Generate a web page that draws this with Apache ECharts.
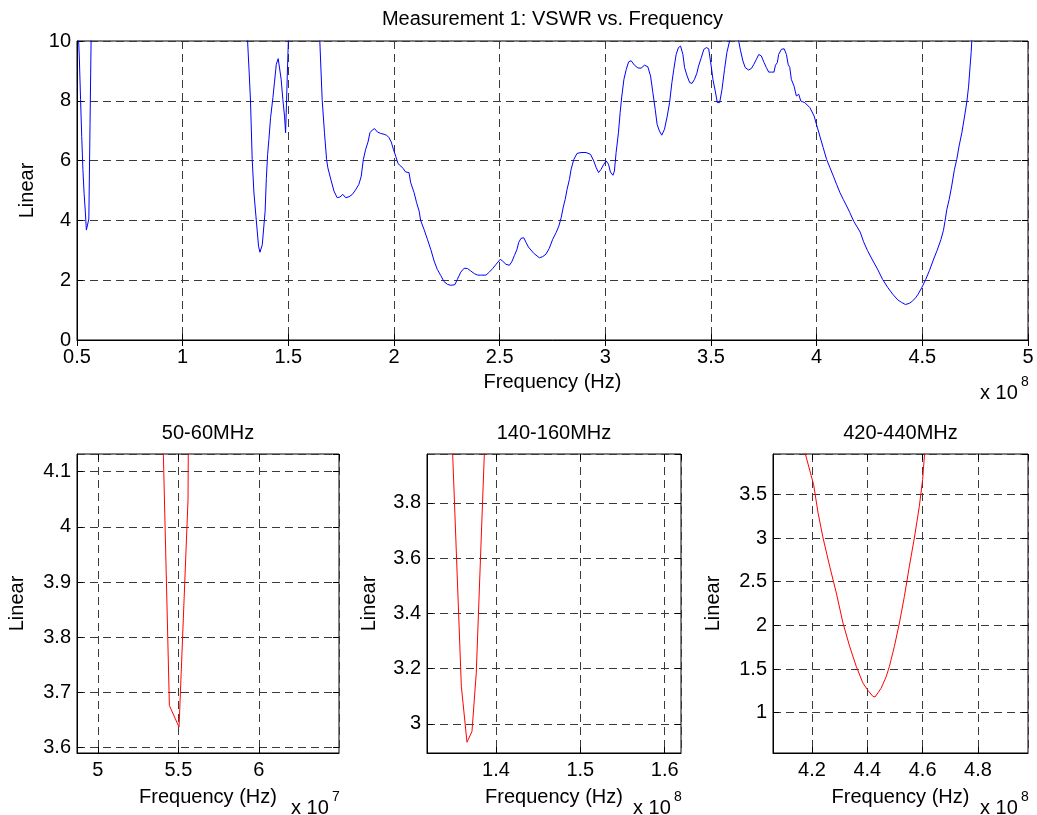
<!DOCTYPE html>
<html>
<head>
<meta charset="utf-8">
<title>VSWR vs. Frequency</title>
<script src="https://cdn.jsdelivr.net/npm/echarts@6/dist/echarts.min.js"></script>
<style>
  html, body { margin: 0; padding: 0; background: #fff; }
  #main { width: 1037px; height: 815px; }
</style>
</head>
<body>
<div id="main"></div>
<script>
// measured curve, frequency in MHz, VSWR linear
// the curve is off the top of the plot between the segments
var freqA = [50.0, 50.56, 51.12, 51.68, 52.24, 52.8, 53.36, 53.92, 54.44, 55.04, 55.6, 56.16, 56.72, 57.28];
var vswrA = [11.5, 10.4, 9.4, 8.05, 6.8, 5.7, 4.9, 4.31, 3.676, 3.637, 4.05, 7.2, 10.3, 11.5];

var freqB = [130.2, 131.0, 131.5, 132.1, 132.9, 133.7, 134.5, 135.9, 136.57, 137.16,
  137.67, 139.0, 139.6, 140.2, 140.8, 141.6, 142.7, 143.5, 144.3, 145.2,
  145.8, 146.6, 147.4, 148.2, 148.7, 149.0, 149.5, 150.0, 150.4];
var vswrB = [10.8, 9.6, 8.9, 7.99, 6.04, 4.95, 4.28, 3.136, 2.934, 2.973,
  3.185, 4.29, 5.4, 6.2, 6.71, 7.44, 8.10, 8.66, 9.22, 9.41,
  9.39, 8.72, 8.05, 7.49, 6.93, 7.60, 8.83, 10.0, 10.8];

var freqC = [164.4, 164.9, 166.0, 167.1, 168.1, 168.7, 170.3, 171.6, 173.1, 174.4,
  175.8, 177.1, 178.7, 180.3, 181.8, 183.4, 184.5, 185.5, 186.6, 187.7,
  188.6, 189.7, 190.8, 192.1, 193.7, 195.3, 196.5, 197.6, 198.7, 199.7,
  200.8, 201.9, 203.2, 204.4, 205.5, 206.3, 207.1, 207.9, 209.5, 210.7,
  211.9, 212.6, 214.2, 215.8, 217.4, 219.0, 220.5, 222.1, 223.7, 225.3,
  226.9, 228.8, 230.0, 231.6, 233.2, 234.8, 236.3, 238.0, 239.6, 241.1,
  243.5, 245.1, 246.7, 248.3, 250.3, 251.4, 253.0, 254.6, 255.7, 257.0,
  258.2, 259.0, 260.1, 261.4, 262.5, 263.6, 264.8, 266.1, 267.7, 268.8,
  270.4, 271.9, 273.5, 275.1, 276.7, 278.0, 279.1, 280.2, 281.0, 281.9,
  283.0, 283.8, 285.1, 286.6, 288.5, 290.9, 293.0, 294.5, 295.7, 296.8,
  298.0, 299.3];
var vswrC = [10.9, 10.0, 8.05, 6.93, 6.04, 5.76, 5.32, 4.98, 4.76, 4.78,
  4.87, 4.76, 4.79, 4.87, 5.02, 5.21, 5.48, 6.04, 6.38, 6.62,
  6.93, 7.02, 7.07, 6.96, 6.91, 6.88, 6.85, 6.77, 6.62, 6.38,
  6.15, 5.90, 5.82, 5.73, 5.62, 5.67, 5.60, 5.26, 4.93, 4.59,
  4.31, 4.00, 3.70, 3.37, 3.03, 2.64, 2.36, 2.16, 1.95, 1.86,
  1.83, 1.85, 2.03, 2.27, 2.40, 2.39, 2.31, 2.22, 2.17, 2.17,
  2.17, 2.27, 2.39, 2.53, 2.70, 2.64, 2.53, 2.50, 2.61, 2.83,
  3.03, 3.26, 3.40, 3.42, 3.26, 3.11, 3.01, 2.90, 2.81, 2.75,
  2.79, 2.87, 3.07, 3.37, 3.59, 3.81, 4.09, 4.48, 4.70, 5.04,
  5.37, 5.71, 6.04, 6.24, 6.27, 6.27, 6.21, 5.99, 5.76, 5.60,
  5.71, 5.88];

var freqD = [300.4, 301.5, 302.4, 303.6, 304.3, 305.1, 306.2, 307.0, 307.8, 308.8,
  309.9, 311.0, 312.2, 313.8, 315.4, 316.9, 318.5, 320.1, 321.4, 322.5,
  323.6, 324.5, 325.6, 326.7, 328.0, 329.3, 330.4, 331.5, 332.4, 333.5,
  334.6, 335.6, 336.7, 337.5, 338.7, 339.9, 341.0, 342.2, 343.3, 344.1,
  345.4, 346.6, 347.8, 348.9, 350.1, 350.9, 352.0, 353.0, 354.1, 355.2,
  356.4, 357.5, 358.8, 359.6, 361.0, 362.0, 363.1, 364.0, 365.1, 366.2,
  367.8, 369.1, 370.3, 371.5, 372.6, 373.8, 375.1, 376.2, 377.3, 378.6,
  379.8, 380.5, 381.4, 382.0, 383.3, 384.6, 385.7, 386.5, 387.3, 388.0,
  389.3, 390.4, 391.5, 392.5, 394.4, 396.8, 398.8, 399.9, 401.5, 403.1,
  404.7, 406.3, 407.9, 409.4, 411.0, 412.6, 414.2, 415.7];
var vswrD = [5.99, 5.88, 5.62, 5.51, 5.65, 6.27, 6.93, 7.60, 8.16, 8.72,
  9.05, 9.30, 9.34, 9.19, 9.10, 9.09, 9.19, 9.14, 8.83, 8.27,
  7.71, 7.21, 6.99, 6.85, 7.05, 7.49, 7.94, 8.61, 9.05, 9.55,
  9.78, 9.83, 9.55, 9.11, 8.83, 8.61, 8.58, 8.72, 8.92, 9.16,
  9.44, 9.72, 9.78, 9.74, 9.16, 8.72, 8.33, 7.94, 7.94, 8.38,
  9.05, 9.61, 10.0, 10.2, 10.3, 10.15, 10.0, 9.67, 9.33, 9.11,
  9.03, 9.08, 9.22, 9.39, 9.55, 9.50, 9.28, 9.11, 8.96, 8.96,
  8.96, 9.19, 9.28, 9.55, 9.72, 9.74, 9.55, 9.22, 9.11, 8.72,
  8.49, 8.16, 8.22, 7.99, 7.94, 7.77, 7.49, 7.21, 6.82, 6.43,
  6.04, 5.76, 5.48, 5.21, 4.93, 4.70, 4.48, 4.26];

var freqE = [417.6, 420.6, 422.2, 424.0, 426.4, 428.8, 431.2, 433.6, 436.0, 438.4,
  440.2, 442.0, 442.8, 443.8, 445.0, 446.8, 448.0, 449.8, 451.6, 453.4,
  455.2, 457.0, 458.8, 460.0, 460.7, 461.6, 462.7, 463.9, 465.2, 466.3,
  467.4, 468.7, 470.0, 471.1, 471.9, 472.6, 473.1, 473.4, 474.0];
var vswrE = [3.962, 3.61, 3.286, 3.0, 2.676, 2.37, 2.026, 1.76, 1.53, 1.34,
  1.256, 1.187, 1.18, 1.225, 1.28, 1.41, 1.53, 1.76, 2.026, 2.33,
  2.676, 3.0, 3.36, 3.67, 3.962, 4.37, 4.70, 5.15, 5.71, 6.04,
  6.49, 6.93, 7.49, 7.99, 8.49, 9.16, 9.61, 10.0, 11.0];

// the four panels
var titles = ['Measurement 1: VSWR vs. Frequency', '50-60MHz', '140-160MHz', '420-440MHz'];
var xMin = [50, 48.7, 131.83, 405.9];
var xMax = [500, 64.98, 161.93, 498.1];
var xStep = [50, 5, 10, 20];
var xDiv = [100, 10, 100, 100];   // MHz -> shown units
var xExp = ['8', '7', '8', '8'];
var yMin = [0, 3.59, 2.895, 0.538];
var yMax = [10, 4.132, 3.977, 3.962];
var yStep = [2, 0.1, 0.2, 0.5];

// build points, null = gap
function pairs(f, v) {
  var out = [];
  for (var i = 0; i < f.length; i++) out.push([f[i], v[i]]);
  return out;
}
var points = [].concat(
  pairs(freqA, vswrA), [[90, null]],
  pairs(freqB, vswrB), [[157, null]],
  pairs(freqC, vswrC), pairs(freqD, vswrD), pairs(freqE, vswrE)
);

var font = '"Liberation Sans", Arial, sans-serif';
var fs = 20;
var boxes = [
  { left: 77, top: 41, width: 951, height: 299 },
  { left: 77, top: 454, width: 262, height: 299 },
  { left: 427, top: 454, width: 254, height: 299 },
  { left: 773, top: 454, width: 255, height: 299 }
];
var xNameGap = [32, 34, 34, 34];
var yNameGap = [40, 50, 48, 50];

function fmt(div) {
  return function (v) { return String(+(v / div).toFixed(4)); };
}
var gridLine = { show: true, lineStyle: { color: '#3a3a3a', type: [8, 5], width: 1 } };
var tick = { show: true, inside: true, length: 6, lineStyle: { color: '#000', width: 1 } };

var option = { animation: false, grid: [], xAxis: [], yAxis: [], series: [], graphic: [] };
var extraX = [], extraY = [];

for (var i = 0; i < 4; i++) {
  var b = boxes[i];
  option.grid.push({
    left: b.left, top: b.top, width: b.width, height: b.height,
    show: true, borderColor: '#000', borderWidth: 1, outerBoundsMode: 'none'
  });
  option.xAxis.push({
    type: 'value', gridIndex: i, min: xMin[i], max: xMax[i],
    minInterval: xStep[i], maxInterval: xStep[i],
    name: 'Frequency (Hz)', nameLocation: 'middle', nameGap: xNameGap[i],
    nameTextStyle: { color: '#000', fontSize: fs, fontFamily: font },
    axisLine: { show: true, onZero: false, lineStyle: { color: '#000', width: 1 } },
    axisTick: tick,
    axisLabel: {
      color: '#000', fontSize: fs, fontFamily: font, margin: 7,
      formatter: fmt(xDiv[i]), showMinLabel: i == 0, showMaxLabel: i == 0
    },
    splitLine: gridLine
  });
  option.yAxis.push({
    type: 'value', gridIndex: i, min: yMin[i], max: yMax[i],
    minInterval: yStep[i], maxInterval: yStep[i],
    name: 'Linear', nameLocation: 'middle', nameGap: yNameGap[i],
    nameTextStyle: { color: '#000', fontSize: fs, fontFamily: font },
    axisLine: { show: true, onZero: false, lineStyle: { color: '#000', width: 1 } },
    axisTick: tick,
    axisLabel: {
      color: '#000', fontSize: fs, fontFamily: font, margin: 6,
      formatter: fmt(1), showMinLabel: i == 0, showMaxLabel: i == 0
    },
    splitLine: gridLine
  });
  // ticks on the top and right edges too
  extraX.push({
    type: 'value', gridIndex: i, position: 'top', min: xMin[i], max: xMax[i],
    minInterval: xStep[i], maxInterval: xStep[i],
    axisLine: { show: false }, axisTick: tick, axisLabel: { show: false }, splitLine: { show: false }
  });
  extraY.push({
    type: 'value', gridIndex: i, position: 'right', min: yMin[i], max: yMax[i],
    minInterval: yStep[i], maxInterval: yStep[i],
    axisLine: { show: false }, axisTick: tick, axisLabel: { show: false }, splitLine: { show: false }
  });
  option.series.push({
    type: 'line', xAxisIndex: i, yAxisIndex: i, data: points,
    showSymbol: false, symbol: 'none', connectNulls: false, clip: true, silent: true,
    lineStyle: { color: i == 0 ? '#0000ff' : '#ff0000', width: 1 },
    itemStyle: { color: i == 0 ? '#0000ff' : '#ff0000' }
  });

  // title above the panel
  option.graphic.push({
    type: 'text', x: b.left + b.width / 2, y: i == 0 ? 19 : 433,
    style: {
      text: titles[i], fill: '#000', font: fs + 'px ' + font,
      align: 'center', verticalAlign: 'middle', textAlign: 'center', textVerticalAlign: 'middle'
    }
  });
  // "x 10^n" under the right end of the x axis
  var ex = b.left + b.width - 48;
  var ey = b.top + b.height + (i == 0 ? 53 : 55);
  option.graphic.push({
    type: 'text', x: ex, y: ey,
    style: { text: 'x 10', fill: '#000', font: fs + 'px ' + font, verticalAlign: 'middle', textVerticalAlign: 'middle' }
  });
  option.graphic.push({
    type: 'text', x: ex + 41, y: ey - 11,
    style: { text: xExp[i], fill: '#000', font: '14px ' + font, verticalAlign: 'middle', textVerticalAlign: 'middle' }
  });
}
option.xAxis = option.xAxis.concat(extraX);
option.yAxis = option.yAxis.concat(extraY);

var myChart = echarts.init(document.getElementById('main'), null, { renderer: 'canvas' });
myChart.setOption(option);
</script>
</body>
</html>
